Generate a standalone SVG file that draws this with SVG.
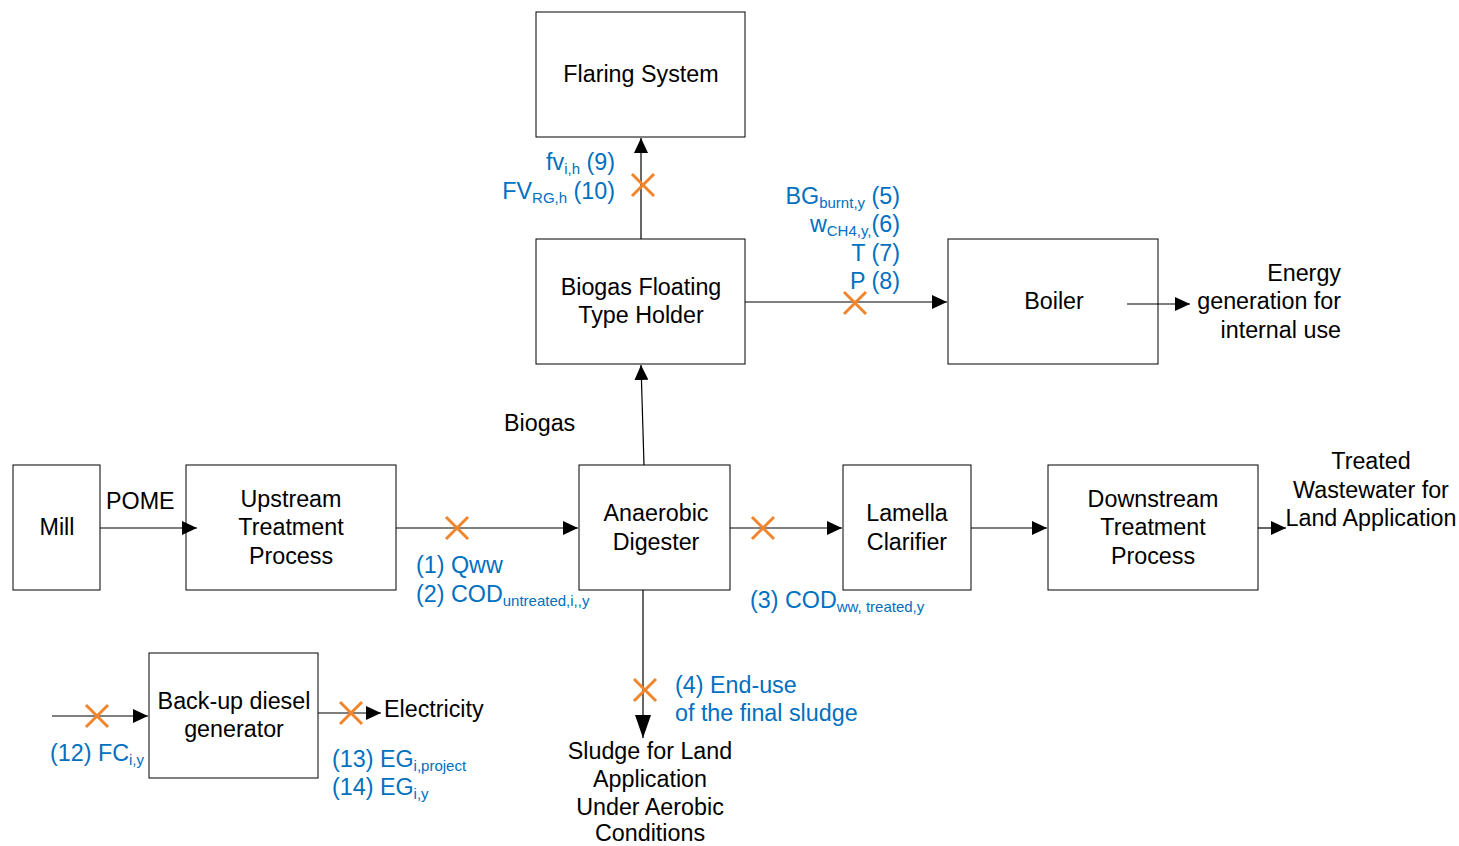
<svg xmlns="http://www.w3.org/2000/svg" width="1459" height="846" viewBox="0 0 1459 846">
<defs>
<style>
.box{fill:#fff;stroke:#000;stroke-width:1}
.t{font-family:"Liberation Sans",Arial,sans-serif;font-size:23.3px;fill:#000}
.c{text-anchor:middle}
.e{text-anchor:end}
.b{font-family:"Liberation Sans",Arial,sans-serif;font-size:23.3px;fill:#0070C0}
.s{font-size:15px}
.ln{fill:none;stroke:#000;stroke-width:1.2}
.x{stroke:#F0852D;stroke-width:3;fill:none}
</style>
<marker id="ah" markerUnits="userSpaceOnUse" markerWidth="16" markerHeight="14" refX="15" refY="7" orient="auto">
<path d="M0,0 L15,7 L0,14 Z" fill="#000"/>
</marker>
<marker id="ahl" markerUnits="userSpaceOnUse" markerWidth="24" markerHeight="18" refX="23" refY="8" orient="auto">
<path d="M0,0 L23,8 L0,16 Z" fill="#000"/>
</marker>
</defs>

<g id="flaring"><rect class="box" x="536" y="12" width="209" height="125"/><text class="t c" x="641" y="82">Flaring System</text></g>
<g id="holder"><rect class="box" x="536" y="239" width="209" height="125"/><text class="t c" x="641" y="295">Biogas Floating</text><text class="t c" x="641" y="323">Type Holder</text></g>
<g id="boiler"><rect class="box" x="948" y="239" width="210" height="125"/><text class="t c" x="1054" y="309">Boiler</text></g>
<g id="mill"><rect class="box" x="13" y="465" width="87" height="125"/><text class="t c" x="57" y="535">Mill</text></g>
<g id="upstream"><rect class="box" x="186" y="465" width="210" height="125"/><text class="t c" x="291" y="507">Upstream</text><text class="t c" x="291" y="535">Treatment</text><text class="t c" x="291" y="564">Process</text></g>
<g id="digester"><rect class="box" x="579" y="465" width="151" height="125"/><text class="t c" x="656" y="521">Anaerobic</text><text class="t c" x="656" y="550">Digester</text></g>
<g id="lamella"><rect class="box" x="843" y="465" width="128" height="125"/><text class="t c" x="907" y="521">Lamella</text><text class="t c" x="907" y="550">Clarifier</text></g>
<g id="downstream"><rect class="box" x="1048" y="465" width="210" height="125"/><text class="t c" x="1153" y="507">Downstream</text><text class="t c" x="1153" y="535">Treatment</text><text class="t c" x="1153" y="564">Process</text></g>
<g id="generator"><rect class="box" x="149" y="653" width="169" height="125"/><text class="t c" x="234" y="709">Back-up diesel</text><text class="t c" x="234" y="737">generator</text></g>

<g id="connectors">
<line class="ln" x1="641" y1="239" x2="641" y2="138" marker-end="url(#ah)"/>
<line class="ln" x1="745" y1="302" x2="947" y2="302" marker-end="url(#ah)"/>
<line class="ln" x1="1127" y1="304" x2="1190" y2="304" marker-end="url(#ah)"/>
<line class="ln" x1="644" y1="465" x2="641" y2="365" marker-end="url(#ah)"/>
<line class="ln" x1="100" y1="528" x2="197" y2="528" marker-end="url(#ah)"/>
<line class="ln" x1="396" y1="528" x2="578" y2="528" marker-end="url(#ah)"/>
<line class="ln" x1="730" y1="528" x2="842" y2="528" marker-end="url(#ah)"/>
<line class="ln" x1="971" y1="528" x2="1047" y2="528" marker-end="url(#ah)"/>
<line class="ln" x1="1258" y1="528" x2="1286" y2="528" marker-end="url(#ah)"/>
<line class="ln" x1="643" y1="590" x2="643" y2="738" marker-end="url(#ahl)"/>
<line class="ln" x1="52" y1="716" x2="148" y2="716" marker-end="url(#ah)"/>
<line class="ln" x1="318" y1="713" x2="381" y2="713" marker-end="url(#ah)"/>
</g>

<g id="markers">
<path class="x" d="M632,174 L654,196 M654,174 L632,196"/>
<path class="x" d="M844,292 L866,314 M866,292 L844,314"/>
<path class="x" d="M446,517 L468,539 M468,517 L446,539"/>
<path class="x" d="M752,517 L774,539 M774,517 L752,539"/>
<path class="x" d="M634,679 L656,701 M656,679 L634,701"/>
<path class="x" d="M86,705 L108,727 M108,705 L86,727"/>
<path class="x" d="M340,702 L362,724 M362,702 L340,724"/>
</g>

<g id="labels">
<text class="b e" x="615" y="170">fv<tspan class="s" dy="4">i,h</tspan><tspan dy="-4"> (9)</tspan></text>
<text class="b e" x="615" y="199">FV<tspan class="s" dy="4">RG,h</tspan><tspan dy="-4"> (10)</tspan></text>
<text class="b e" x="900" y="204">BG<tspan class="s" dy="4">burnt,y</tspan><tspan dy="-4"> (5)</tspan></text>
<text class="b e" x="900" y="232">w<tspan class="s" dy="4">CH4,y,</tspan><tspan dy="-4">(6)</tspan></text>
<text class="b e" x="900" y="261">T (7)</text>
<text class="b e" x="900" y="289">P (8)</text>
<text class="b" x="416" y="573">(1) Qww</text>
<text class="b" x="416" y="602">(2) COD<tspan class="s" dy="4">untreated,i,,y</tspan></text>
<text class="b" x="750" y="608">(3) COD<tspan class="s" dy="4">ww, treated,y</tspan></text>
<text class="b" x="675" y="693">(4) End-use</text>
<text class="b" x="675" y="721">of the final sludge</text>
<text class="b" x="50" y="761">(12) FC<tspan class="s" dy="4">i,y</tspan></text>
<text class="b" x="332" y="767">(13) EG<tspan class="s" dy="4">i,project</tspan></text>
<text class="b" x="332" y="795">(14) EG<tspan class="s" dy="4">i,y</tspan></text>
<text class="t" x="384" y="717">Electricity</text>
<text class="t" x="504" y="431">Biogas</text>
<text class="t" x="106" y="509">POME</text>
<text class="t e" x="1341" y="281">Energy</text>
<text class="t e" x="1341" y="309">generation for</text>
<text class="t e" x="1341" y="338">internal use</text>
<text class="t c" x="1371" y="469">Treated</text>
<text class="t c" x="1371" y="498">Wastewater for</text>
<text class="t c" x="1371" y="526">Land Application</text>
<text class="t c" x="650" y="759">Sludge for Land</text>
<text class="t c" x="650" y="787">Application</text>
<text class="t c" x="650" y="815">Under Aerobic</text>
<text class="t c" x="650" y="841">Conditions</text>
</g>
</svg>
